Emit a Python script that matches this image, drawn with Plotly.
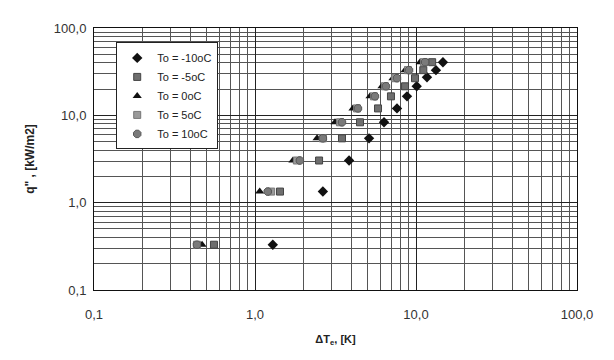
import plotly.graph_objects as go

# Data (ΔTe in K, q'' in kW/m2)
q_levels = [0.33, 1.34, 3.04, 5.45, 8.32, 12.0, 16.5, 21.5, 26.6, 32.9, 40.6]

dt_m10 = [1.29, 2.64, 3.84, 5.11, 6.33, 7.62, 8.79, 10.1, 11.7, 13.3, 14.7]
q_m10 = [0.33, 1.34, 3.04, 5.45, 8.32, 12.0, 16.5, 21.5, 27.3, 32.9, 40.6]

dt_m5 = [0.556, 1.43, 2.50, 3.47, 4.49, 5.81, 6.99, 8.55, 9.86, 11.1, 12.6]
dt_0 = [0.469, 1.07, 1.72, 2.43, 3.14, 4.06, 5.18, 6.15, 7.19, 8.55, 10.6]
dt_5 = [0.436, 1.26, 1.82, 2.64, 3.37, 4.30, 5.48, 6.42, 7.41, 8.92, 11.2]
dt_10 = [0.436, 1.20, 1.90, 2.64, 3.47, 4.36, 5.56, 6.51, 7.62, 9.05, 11.4]

names = ["To = -10oC", "To = -5oC", "To = 0oC", "To = 5oC", "To = 10oC"]
tick_vals = [0.1, 1, 10, 100]
tick_text = ["0,1", "1,0", "10,0", "100,0"]

fig = go.Figure()
fig.add_trace(go.Scatter(x=dt_m10, y=q_m10, mode="markers", name=names[0],
                         marker=dict(symbol="diamond", size=8, color="#111111")))
fig.add_trace(go.Scatter(x=dt_m5, y=q_levels, mode="markers", name=names[1],
                         marker=dict(symbol="square", size=7, color="#6e6e6e",
                                     line=dict(color="#444444", width=1))))
fig.add_trace(go.Scatter(x=dt_0, y=q_levels, mode="markers", name=names[2],
                         marker=dict(symbol="triangle-up", size=8, color="#111111")))
fig.add_trace(go.Scatter(x=dt_5, y=q_levels, mode="markers", name=names[3],
                         marker=dict(symbol="square", size=7, color="#9a9a9a",
                                     line=dict(color="#777777", width=1))))
fig.add_trace(go.Scatter(x=dt_10, y=q_levels, mode="markers", name=names[4],
                         marker=dict(symbol="octagon", size=8, color="#7a7a7a",
                                     line=dict(color="#555555", width=1))))

axis_common = dict(
    type="log",
    tickvals=tick_vals,
    ticktext=tick_text,
    showgrid=True,
    gridcolor="#222222",
    gridwidth=1,
    showline=True,
    linecolor="#111111",
    linewidth=1,
    mirror=True,
    ticks="",
    zeroline=False,
    tickfont=dict(family="Liberation Sans, Arial", size=13, color="#333333"),
    minor=dict(dtick="D1", showgrid=True, gridcolor="#555555", gridwidth=1, ticks=""),
)

fig.update_xaxes(range=[-1, 2], ticklabelstandoff=12,
                 title=dict(text="<b>ΔT<sub>e</sub>, [K]</b>",
                            font=dict(family="Liberation Sans, Arial", size=11, color="#222222"),
                            standoff=14), **axis_common)
fig.update_yaxes(range=[-1, 2], ticklabelstandoff=4,
                 title=dict(text="<b>q\" , [kW/m2]</b>",
                            font=dict(family="Liberation Sans, Arial", size=12, color="#222222"),
                            standoff=16), **axis_common)

fig.update_layout(
    width=614, height=360,
    margin=dict(l=94, r=37, t=28, b=70),
    paper_bgcolor="white",
    plot_bgcolor="white",
    showlegend=True,
    legend=dict(x=0.046, y=0.945, xanchor="left", yanchor="top",
                bgcolor="white", bordercolor="#222222", borderwidth=1,
                font=dict(family="Liberation Sans, Arial", size=11, color="#222222"),
                tracegroupgap=0, itemwidth=30),
)

fig.write_html("out.html")
